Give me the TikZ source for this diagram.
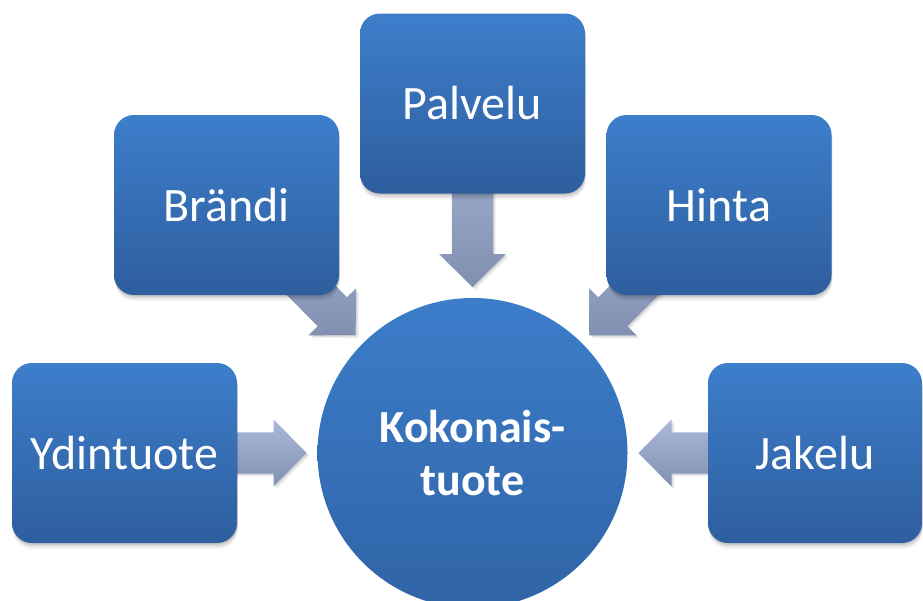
\documentclass[tikz,border=0pt]{standalone}
\usepackage{fontspec}
\setmainfont{Carlito}
\usetikzlibrary{calc}

\definecolor{boxtop}{HTML}{3D7ECB}
\definecolor{boxbot}{HTML}{2E5E9E}
\definecolor{coretop}{HTML}{3C7DCA}
\definecolor{corebot}{HTML}{3064A6}
\definecolor{arrtop}{HTML}{AAB9DA}
\definecolor{arrbot}{HTML}{8190B1}

\pgfdeclarelayer{paper}
\pgfdeclarelayer{background}
\pgfsetlayers{paper,background,main}

\tikzset{
  softshadow/.style={
    preaction={fill=black, fill opacity=0.09, transform canvas={xshift=0.4pt, yshift=-1.2pt}},
    preaction={fill=black, fill opacity=0.07, transform canvas={xshift=0.5pt, yshift=-2.4pt}},
    preaction={fill=black, fill opacity=0.05, transform canvas={xshift=0.6pt, yshift=-3.6pt}},
    preaction={fill=black, fill opacity=0.03, transform canvas={xshift=0.7pt, yshift=-4.8pt}}},
  flowshadow/.style={
    preaction={fill=black, fill opacity=0.08, transform canvas={xshift=0.8pt, yshift=-0.8pt}},
    preaction={fill=black, fill opacity=0.06, transform canvas={xshift=1.6pt, yshift=-1.6pt}},
    preaction={fill=black, fill opacity=0.04, transform canvas={xshift=2.4pt, yshift=-2.4pt}}},
  part/.style={rounded corners=15pt, minimum width=168.75pt, minimum height=135pt,
      top color=boxtop, bottom color=boxbot, draw=none, text=white, inner sep=0pt,
      font=\fontsize{36}{43}\selectfont, softshadow},
  core/.style={circle, minimum size=232.5pt, inner sep=0pt,
      top color=coretop, bottom color=corebot, draw=none, text=white, align=center,
      font=\bfseries\fontsize{34.5}{40}\selectfont},
  flow/.style={top color=arrtop, bottom color=arrbot, draw=none, flowshadow}
}

% block arrow from #1 (tail) to #2 (tip): shaft 41, head 67 wide and 33 long
\newcommand\blockarrow[2]{%
  \coordinate (ba-h) at ($(#2)!24.75pt!(#1)$);
  \path[flow] ($(#1)!15.4pt!90:(#2)$) -- ($(ba-h)!15.4pt!90:(#2)$)
    -- ($(ba-h)!25.1pt!90:(#2)$) -- (#2) -- ($(ba-h)!25.1pt!-90:(#2)$)
    -- ($(ba-h)!15.4pt!-90:(#2)$) -- ($(#1)!15.4pt!-90:(#2)$) -- cycle;
}

\begin{document}
\begin{tikzpicture}[x=0.75pt,y=-0.75pt]
  \useasboundingbox (0,0) rectangle (923,600);
  \begin{pgfonlayer}{paper}
    \fill[white] (0,0) rectangle (923,600);
  \end{pgfonlayer}

  % outer parts of the product
  \node[part] (palvelu) at (472.5,103.5) {Palvelu};
  \node[part] (brandi)  at (226.5,205)   {Brändi};
  \node[part] (hinta)   at (719,205)     {Hinta};
  \node[part] (ydin)    at (124.5,453)   {Ydintuote};
  \node[part, minimum width=160.5pt] (jakelu) at (815,453) {Jakelu};

  % the whole product
  \node[core] (koko) at (472.5,453) {Kokonais-\\tuote};

  % tips of the arrows, just outside the circle
  \coordinate (t-palvelu) at ($(koko.center)!124.5pt!(palvelu.center)$);
  \coordinate (t-brandi)  at ($(koko.center)!124.5pt!(brandi.center)$);
  \coordinate (t-hinta)   at ($(koko.center)!124.5pt!(hinta.center)$);
  \coordinate (t-ydin)    at ($(koko.center)!124.5pt!(ydin.center)$);
  \coordinate (t-jakelu)  at ($(koko.center)!124.5pt!(jakelu.center)$);

  \begin{pgfonlayer}{background}
    \blockarrow{palvelu.center}{t-palvelu}
    \blockarrow{brandi.center}{t-brandi}
    \blockarrow{hinta.center}{t-hinta}
    \blockarrow{ydin.center}{t-ydin}
    \blockarrow{jakelu.center}{t-jakelu}
  \end{pgfonlayer}
\end{tikzpicture}
\end{document}
